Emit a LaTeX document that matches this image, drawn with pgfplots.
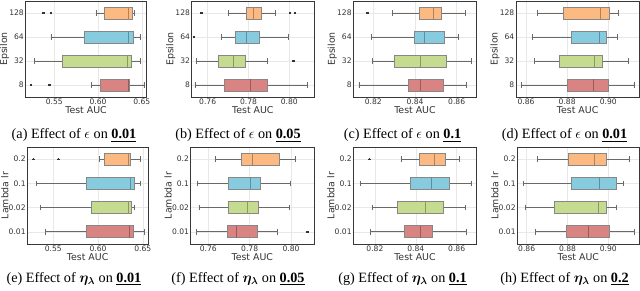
\documentclass[border=0pt]{standalone}
\usepackage{fontspec}
\setmainfont{Liberation Serif}
\setsansfont{DejaVu Sans}
\usepackage{amsmath}
\usepackage{pgfplots}
\pgfplotsset{compat=1.18}
\usepgfplotslibrary{statistics}

\definecolor{oF}{RGB}{252,185,130}
\definecolor{bF}{RGB}{135,204,222}
\definecolor{gF}{RGB}{197,219,143}
\definecolor{rF}{RGB}{217,131,131}
\colorlet{oM}{oF!70!black}
\colorlet{bM}{bF!70!black}
\colorlet{gM}{gF!70!black}
\colorlet{rM}{rF!70!black}
\definecolor{boxedge}{RGB}{135,135,135}
\definecolor{whisk}{RGB}{105,105,105}

\pgfplotsset{
  panel/.style={
    scale only axis, anchor=south west,
    major tick length=0pt,
    grid=major, major grid style={black!9, line width=0.4pt},
    axis line style={black!78, line width=0.9pt},
    ymin=0.5, ymax=4.5, ytick={1,2,3,4},
    every tick label/.append style={font=\sffamily\fontsize{7.6}{8}\selectfont, text=black!80},
    xticklabel style={inner sep=0pt, anchor=north, yshift=-1.3pt},
    yticklabel style={inner sep=0pt, anchor=east, xshift=-1.5pt},
    xlabel={Test AUC},
    every axis x label/.style={at={(axis description cs:0.5,0)}, anchor=north, yshift=-9pt, inner sep=0pt, font=\sffamily\fontsize{9.4}{10}\selectfont, text=black!80},
  },
  row1/.style={panel, height=96pt, ylabel={Epsilon}, yticklabels={8,32,64,128},
    every axis y label/.style={at={(axis description cs:0,0.5)}, xshift=-21pt, rotate=90, anchor=center, inner sep=0pt, font=\sffamily\fontsize{9.4}{10}\selectfont, text=black!80}},
  row2/.style={panel, height=97pt, ylabel={Lambda lr}, yticklabels={0.01,0.02,0.1,0.2},
    every axis y label/.style={at={(axis description cs:0,0.5)}, xshift=-22.5pt, rotate=90, anchor=center, inner sep=0pt, font=\sffamily\fontsize{9.4}{10}\selectfont, text=black!80}},
  bp/.style={boxplot/box extend=0.5, boxplot/whisker extend=0.22,
    draw=boxedge, line width=0.9pt,
    mark=*, mark size=0.8pt, mark options={draw=black!80, fill=black!80, line width=0pt},
    boxplot/every whisker/.style={draw=whisk, line width=0.8pt}},
  bo/.style={bp, fill=oF, boxplot/every median/.style={draw=oM, line width=1pt}},
  bb/.style={bp, fill=bF, boxplot/every median/.style={draw=bM, line width=1pt}},
  bg/.style={bp, fill=gF, boxplot/every median/.style={draw=gM, line width=1pt}},
  br/.style={bp, fill=rF, boxplot/every median/.style={draw=rM, line width=1pt}},
}

\begin{document}
\begin{tikzpicture}
\useasboundingbox (0,0) rectangle (640pt,291pt);

% ---------- Row 1 ----------
\begin{axis}[row1, at={(25.5pt,194pt)}, width=121.2pt, xmin=0.5171, xmax=0.6557,
  xtick={0.55,0.60,0.65}, xticklabels={0.55,0.60,0.65}]
\addplot[bo, boxplot prepared={draw position=4, lower whisker=0.5977, lower quartile=0.6069, median=0.6347, upper quartile=0.6397, upper whisker=0.6415}] coordinates {(0,0.5374) (0,0.5462)};
\addplot[bb, boxplot prepared={draw position=3, lower whisker=0.5462, lower quartile=0.5843, median=0.6347, upper quartile=0.6404, upper whisker=0.6480}] coordinates {};
\addplot[bg, boxplot prepared={draw position=2, lower whisker=0.5271, lower quartile=0.5596, median=0.6340, upper quartile=0.6378, upper whisker=0.6480}] coordinates {};
\addplot[br, boxplot prepared={draw position=1, lower whisker=0.5928, lower quartile=0.6023, median=0.6347, upper quartile=0.6358, upper whisker=0.6526}] coordinates {(0,0.5233) (0,0.5443)};
\end{axis}

\begin{axis}[row1, at={(191.7pt,194pt)}, width=122.3pt, xmin=0.7522, xmax=0.8121,
  xtick={0.76,0.78,0.80}, xticklabels={0.76,0.78,0.80}]
\addplot[bo, boxplot prepared={draw position=4, lower whisker=0.7701, lower quartile=0.7788, median=0.7823, upper quartile=0.7865, upper whisker=0.7930}] coordinates {(0,0.7571) (0,0.8003) (0,0.8028)};
\addplot[bb, boxplot prepared={draw position=3, lower whisker=0.7669, lower quartile=0.7735, median=0.7791, upper quartile=0.7856, upper whisker=0.7995}] coordinates {(0,0.7534)};
\addplot[bg, boxplot prepared={draw position=2, lower whisker=0.7546, lower quartile=0.7652, median=0.7729, upper quartile=0.7784, upper whisker=0.7892}] coordinates {(0,0.8020)};
\addplot[br, boxplot prepared={draw position=1, lower whisker=0.7538, lower quartile=0.7680, median=0.7811, upper quartile=0.7892, upper whisker=0.8088}] coordinates {};
\end{axis}

\begin{axis}[row1, at={(353.3pt,194pt)}, width=123.4pt, xmin=0.8104, xmax=0.8696,
  xtick={0.82,0.84,0.86}, xticklabels={0.82,0.84,0.86}]
\addplot[bo, boxplot prepared={draw position=4, lower whisker=0.8293, lower quartile=0.8419, median=0.8491, upper quartile=0.8526, upper whisker=0.8643}] coordinates {(0,0.8173)};
\addplot[bb, boxplot prepared={draw position=3, lower whisker=0.8189, lower quartile=0.8397, median=0.8445, upper quartile=0.8541, upper whisker=0.8608}] coordinates {};
\addplot[bg, boxplot prepared={draw position=2, lower whisker=0.8197, lower quartile=0.8299, median=0.8427, upper quartile=0.8552, upper whisker=0.8669}] coordinates {};
\addplot[br, boxplot prepared={draw position=1, lower whisker=0.8131, lower quartile=0.8370, median=0.8427, upper quartile=0.8536, upper whisker=0.8648}] coordinates {};
\end{axis}

\begin{axis}[row1, at={(516pt,194pt)}, width=123.3pt, xmin=0.8551, xmax=0.9151,
  xtick={0.86,0.88,0.90}, xticklabels={0.86,0.88,0.90}]
\addplot[bo, boxplot prepared={draw position=4, lower whisker=0.8655, lower quartile=0.8781, median=0.8963, upper quartile=0.9005, upper whisker=0.9049}] coordinates {};
\addplot[bb, boxplot prepared={draw position=3, lower whisker=0.8631, lower quartile=0.8822, median=0.8955, upper quartile=0.8989, upper whisker=0.9046}] coordinates {};
\addplot[bg, boxplot prepared={draw position=2, lower whisker=0.8640, lower quartile=0.8760, median=0.8932, upper quartile=0.8973, upper whisker=0.9097}] coordinates {};
\addplot[br, boxplot prepared={draw position=1, lower whisker=0.8576, lower quartile=0.8801, median=0.8930, upper quartile=0.9002, upper whisker=0.9125}] coordinates {};
\end{axis}

% ---------- Row 2 ----------
\begin{axis}[row2, at={(27.3pt,47pt)}, width=120.7pt, xmin=0.5209, xmax=0.6559,
  xtick={0.55,0.60,0.65}, xticklabels={0.55,0.60,0.65}]
\addplot[bo, boxplot prepared={draw position=4, lower whisker=0.6011, lower quartile=0.6071, median=0.6339, upper quartile=0.6358, upper whisker=0.6470}] coordinates {(0,0.5276) (0,0.5556)};
\addplot[bb, boxplot prepared={draw position=3, lower whisker=0.5314, lower quartile=0.5866, median=0.6358, upper quartile=0.6403, upper whisker=0.6478}] coordinates {};
\addplot[bg, boxplot prepared={draw position=2, lower whisker=0.5359, lower quartile=0.5922, median=0.6339, upper quartile=0.6377, upper whisker=0.6403}] coordinates {};
\addplot[br, boxplot prepared={draw position=1, lower whisker=0.5415, lower quartile=0.5866, median=0.6350, upper quartile=0.6395, upper whisker=0.6518}] coordinates {};
\end{axis}

\begin{axis}[row2, at={(190.7pt,47pt)}, width=123.3pt, xmin=0.7515, xmax=0.8111,
  xtick={0.76,0.78,0.80}, xticklabels={0.76,0.78,0.80}]
\addplot[bo, boxplot prepared={draw position=4, lower whisker=0.7632, lower quartile=0.7762, median=0.7815, upper quartile=0.7942, upper whisker=0.8023}] coordinates {};
\addplot[bb, boxplot prepared={draw position=3, lower whisker=0.7547, lower quartile=0.7697, median=0.7802, upper quartile=0.7853, upper whisker=0.7999}] coordinates {};
\addplot[bg, boxplot prepared={draw position=2, lower whisker=0.7555, lower quartile=0.7697, median=0.7791, upper quartile=0.7842, upper whisker=0.7992}] coordinates {};
\addplot[br, boxplot prepared={draw position=1, lower whisker=0.7544, lower quartile=0.7694, median=0.7734, upper quartile=0.7837, upper whisker=0.7934}] coordinates {(0,0.8079)};
\end{axis}

\begin{axis}[row2, at={(353.3pt,47pt)}, width=123.4pt, xmin=0.8094, xmax=0.8698,
  xtick={0.82,0.84,0.86}, xticklabels={0.82,0.84,0.86}]
\addplot[bo, boxplot prepared={draw position=4, lower whisker=0.8327, lower quartile=0.8417, median=0.8489, upper quartile=0.8543, upper whisker=0.8613}] coordinates {(0,0.8172)};
\addplot[bb, boxplot prepared={draw position=3, lower whisker=0.8127, lower quartile=0.8375, median=0.8478, upper quartile=0.8564, upper whisker=0.8670}] coordinates {};
\addplot[bg, boxplot prepared={draw position=2, lower whisker=0.8189, lower quartile=0.8309, median=0.8445, upper quartile=0.8534, upper whisker=0.8644}] coordinates {};
\addplot[br, boxplot prepared={draw position=1, lower whisker=0.8176, lower quartile=0.8344, median=0.8425, upper quartile=0.8482, upper whisker=0.8649}] coordinates {};
\end{axis}

\begin{axis}[row2, at={(517.3pt,47pt)}, width=122pt, xmin=0.8554, xmax=0.9152,
  xtick={0.86,0.88,0.90}, xticklabels={0.86,0.88,0.90}]
\addplot[bo, boxplot prepared={draw position=4, lower whisker=0.8652, lower quartile=0.8804, median=0.8930, upper quartile=0.8989, upper whisker=0.9101}] coordinates {};
\addplot[bb, boxplot prepared={draw position=3, lower whisker=0.8583, lower quartile=0.8817, median=0.8956, upper quartile=0.9038, upper whisker=0.9073}] coordinates {};
\addplot[bg, boxplot prepared={draw position=2, lower whisker=0.8592, lower quartile=0.8734, median=0.8954, upper quartile=0.8992, upper whisker=0.9038}] coordinates {};
\addplot[br, boxplot prepared={draw position=1, lower whisker=0.8641, lower quartile=0.8793, median=0.8902, upper quartile=0.9008, upper whisker=0.9126}] coordinates {};
\end{axis}

% ---------- Captions ----------
\begin{scope}[every node/.style={anchor=base, inner sep=0pt, font=\rmfamily\fontsize{14.2}{16}\selectfont}]
\node at (74pt,152pt) {(a) Effect of $\epsilon$ on \underline{\textbf{0.01}}};
\node at (238pt,152pt) {(b) Effect of $\epsilon$ on \underline{\textbf{0.05}}};
\node at (402.5pt,152pt) {(c) Effect of $\epsilon$ on \underline{\textbf{0.1}}};
\node at (564.5pt,152pt) {(d) Effect of $\epsilon$ on \underline{\textbf{0.01}}};
\node at (74pt,8.5pt) {(e) Effect of $\boldsymbol{\eta_{\lambda}}$ on \underline{\textbf{0.01}}};
\node at (238pt,8.5pt) {(f) Effect of $\boldsymbol{\eta_{\lambda}}$ on \underline{\textbf{0.05}}};
\node at (402.5pt,8.5pt) {(g) Effect of $\boldsymbol{\eta_{\lambda}}$ on \underline{\textbf{0.1}}};
\node at (564.5pt,8.5pt) {(h) Effect of $\boldsymbol{\eta_{\lambda}}$ on \underline{\textbf{0.2}}};
\end{scope}
\end{tikzpicture}
\end{document}
